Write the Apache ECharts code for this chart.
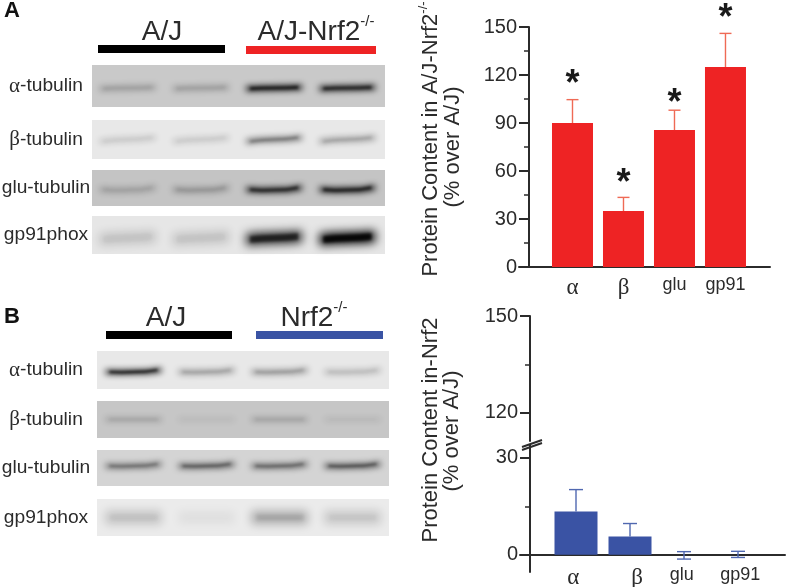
<!DOCTYPE html>
<html><head><meta charset="utf-8">
<style>html,body{margin:0;padding:0;background:#fff}#c{width:787px;height:587px}</style>
<script src="https://cdn.jsdelivr.net/npm/echarts@6/dist/echarts.min.js"></script>
</head><body><div id="c"></div>
<script>
// ---- data ----
const barLabels = ['α', 'β', 'glu', 'gp91'];
const laneNames = ['A/J 1', 'A/J 2', 'KO 1', 'KO 2'];
const valuesA = [90, 35, 85.6, 125];
const errTopA = [104.6, 43.5, 98, 146];
const starsA = [114, 52, 102, 155];
const valuesB = [13.4, 5.7, 0, 0];
const errTopB = [20.2, 9.7, 1, 1.1];
const errBottomB = [13.4, 5.7, -1.3, -0.8];
const blotRowNames = ['α-tubulin', 'β-tubulin', 'glu-tubulin', 'gp91phox'];
const blotA = [[.26,.26,.95,.9],[.2,.2,.62,.42],[.24,.3,.88,.92],[.16,.16,.82,.98]];
const blotB = [[1,.42,.45,.28],[.3,.12,.32,.14],[.6,.7,.65,.75],[.18,.05,.28,.16]];

// ---- layout ----
const INK = '#2b2b2b', RED = '#ee2324', BLUE = '#3a53a4';
const rowsA = [
 {top:65,h:42,bg:'#c9c9c9',dy:2,bh:5,bend:0,tilt:.7},{top:120,h:39,bg:'#e8e8e8',dy:0,bh:4,bend:0,tilt:2},
 {top:170,h:36,bg:'#c4c4c4',dy:2,bh:5,bend:1.5,tilt:1},{top:216,h:38,bg:'#e6e6e6',dy:3,bh:12,bend:0,tilt:1.5}];
const rowsB = [
 {top:351,h:38,bg:'#e8e8e8',dy:2,bh:4,bend:1,tilt:1},{top:401,h:37,bg:'#c6c6c6',dy:0,bh:3,bend:0,tilt:0},
 {top:450,h:36,bg:'#d4d4d4',dy:-2,bh:4,bend:1,tilt:1},{top:499,h:37,bg:'#ebebeb',dy:0,bh:13,bend:0,tilt:0}];
const labelRich = {
  g:{fontFamily:'"Liberation Serif"',fontSize:21,color:INK},
  t:{fontFamily:'"Liberation Sans"',fontSize:19.2,color:INK}
};
const greek = s => /^[αβ]/.test(s) ? '{g|'+s[0]+'}{t|'+s.slice(1)+'}' : '{t|'+s+'}';

const grid=[],xAxis=[],yAxis=[],series=[];
const addGrid=o=>grid.push(Object.assign({outerBoundsMode:'none'},o));
function blotPanel(rows,vals,left,width,laneDx){
  rows.forEach((r,i)=>{
    const gi=grid.length;
    addGrid({left,width,top:r.top,height:r.h,show:true,backgroundColor:r.bg,borderWidth:0});
    xAxis.push({gridIndex:gi,type:'category',data:laneNames,show:false});
    yAxis.push({gridIndex:gi,type:'category',data:[blotRowNames[i]],axisLine:{show:false},axisTick:{show:false},
      axisLabel:{margin:left-46,align:'center',formatter:greek,rich:labelRich}});
    series.push({type:'custom',xAxisIndex:gi,yAxisIndex:gi,silent:true,
      data:vals[i].map((v,k)=>[k,0,v]),encode:{x:0,y:1},
      renderItem(p,api){
        const c=api.coord([api.value(0),0]),v=api.value(2),far=3000;
        const w=56,h=r.bh,cx=c[0]+laneDx-far,cy=c[1]+r.dy;
        const band=(ww,hh)=>{
          const xs=[-.5,-.25,.25,.5],off=[r.tilt-r.bend,.3*r.tilt,-.3*r.tilt,-r.tilt-r.bend];
          const top=xs.map((f,j)=>[cx+f*ww,cy-hh/2+off[j]]);
          const bot=xs.map((f,j)=>[cx+f*ww,cy+hh/2+off[j]]).reverse();
          return top.concat(bot);};
        return {type:'group',children:[
          {type:'polygon',shape:{points:band(w,h)},
           style:{fill:'#000',shadowBlur:h>7?10:6,shadowOffsetX:far,shadowColor:'rgba(0,0,0,'+Math.min(1,v)+')'}},
          {type:'polygon',shape:{points:band(w-8,h*0.55)},
           style:{fill:'#000',shadowBlur:3,shadowOffsetX:far,shadowColor:'rgba(0,0,0,'+v*v*0.9+')'}}
        ]};
      }});
  });
}
blotPanel(rowsA,blotA,92,293,-1);
blotPanel(rowsB,blotB,97,292,0);

function xRich(){return {
  s:{fontFamily:'"Liberation Serif"',fontSize:23,color:INK},
  n:{fontFamily:'"Liberation Sans"',fontSize:18,color:INK}};}
function xAx(gi,min,max,pos,margin){
  return {gridIndex:gi,type:'value',min,max,splitLine:{show:false},
    axisLine:{show:true,onZero:true,lineStyle:{color:INK,width:2}},axisTick:{show:false},
    axisLabel:{customValues:pos,margin,hideOverlap:false,rich:xRich(),
      formatter:v=>{const t=barLabels[pos.indexOf(v)];return /[αβ]/.test(t)?'{s|'+t+'}':'{n|'+t+'}';}}};
}
const yLabel={fontFamily:'"Liberation Sans"',fontSize:20,color:INK,margin:12};
function errSeries(gi,xi,yi,top,bottom,color,capHalf){
  return {type:'custom',xAxisIndex:xi,yAxisIndex:yi,silent:true,clip:false,z:3,
    data:top.map((t,k)=>[k,t,bottom[k]]),encode:{x:0,y:1},
    renderItem(p,api){
      const a=api.coord([api.value(0),api.value(1)]),b=api.coord([api.value(0),api.value(2)]);
      const st={stroke:color,lineWidth:1.4};
      const caps=[{type:'line',shape:{x1:a[0],y1:a[1],x2:b[0],y2:b[1]},style:st},
        {type:'line',shape:{x1:a[0]-capHalf,y1:a[1],x2:a[0]+capHalf,y2:a[1]},style:st}];
      if(api.value(2)<0) caps.push({type:'line',shape:{x1:b[0]-capHalf,y1:b[1],x2:b[0]+capHalf,y2:b[1]},style:st});
      return {type:'group',children:caps};
    }};
}
const axLine={show:true,onZero:false,lineStyle:{color:INK,width:2}};

// Chart A
let g=grid.length;
addGrid({left:519,width:251,top:27,height:240});
xAxis.push(xAx(g,-1.049,3.873,[0,1,2,3],9));
yAxis.push({gridIndex:g,type:'value',min:0,max:150,interval:30,offset:-10,position:'left',splitLine:{show:false},
  axisLine:axLine,axisTick:{length:10,lineStyle:{color:INK,width:2}},
  minorTick:{show:true,splitNumber:2,length:5,lineStyle:{color:INK,width:1.5}},axisLabel:yLabel});
series.push({type:'bar',xAxisIndex:g,yAxisIndex:g,barWidth:41,silent:true,z:2,
  data:valuesA.map((v,i)=>[i,v]),itemStyle:{color:RED}});
series.push(errSeries(g,g,g,errTopA,valuesA,'#ef6a55',6));
series.push({type:'custom',xAxisIndex:g,yAxisIndex:g,silent:true,clip:false,z:4,
  data:starsA.map((v,i)=>[i,v]),encode:{x:0,y:1},
  renderItem(p,api){const c=api.coord([api.value(0),api.value(1)]);
    return {type:'text',x:c[0],y:c[1],style:{text:'*',align:'center',verticalAlign:'middle',
      font:'bold 36px "Liberation Sans"',fill:'#1a1a1a'}};}});

// Chart B: two stacked grids either side of the axis break
g=grid.length;
addGrid({left:520,width:265,top:445,height:127});
xAxis.push(xAx(g,-1.037,3.87,[-0.05,1.13,1.96,3.04],-6));
yAxis.push({gridIndex:g,type:'value',min:-5.3,max:34,offset:-10,position:'left',splitLine:{show:false},
  axisLine:axLine,axisTick:{customValues:[0,30],length:10,lineStyle:{color:INK,width:2}},
  axisLabel:Object.assign({customValues:[0,30]},yLabel)});
series.push({type:'bar',xAxisIndex:g,yAxisIndex:g,barWidth:43,silent:true,z:2,
  data:valuesB.map((v,i)=>[i,v]),itemStyle:{color:BLUE}});
series.push(errSeries(g,g,g,errTopB,errBottomB,'#5068b0',7));
yAxis.push({gridIndex:g,type:'value',min:-5.3,max:34,offset:-10,position:'left',splitLine:{show:false},
  axisLine:{show:false,onZero:false},axisTick:{customValues:[15],length:5,lineStyle:{color:INK,width:1.5}},axisLabel:{show:false}});

g=grid.length;
addGrid({left:520,width:265,top:316,height:125});
xAxis.push({gridIndex:g,type:'value',min:0,max:1,show:false});
const yUp=yAxis.length;
yAxis.push({gridIndex:g,type:'value',min:111.3,max:150,offset:-10,position:'left',splitLine:{show:false},
  axisLine:axLine,axisTick:{customValues:[120,150],length:10,lineStyle:{color:INK,width:2}},
  axisLabel:Object.assign({customValues:[120,150]},yLabel)});
yAxis.push({gridIndex:g,type:'value',min:111.3,max:150,offset:-10,position:'left',splitLine:{show:false},
  axisLine:{show:false,onZero:false},axisTick:{customValues:[135],length:5,lineStyle:{color:INK,width:1.5}},axisLabel:{show:false}});
// empty series so the axes are laid out
series.push({type:'line',xAxisIndex:g,yAxisIndex:yUp,data:[],silent:true});

// ---- text and rules ----
const sans='"Liberation Sans"';
const tx=(text,x,y,size,extra)=>Object.assign({type:'text',x,y,silent:true,
  style:Object.assign({text,align:'center',verticalAlign:'middle',font:size+'px '+sans,fill:INK},extra&&extra.style||{})},
  extra&&extra.rotation?{rotation:extra.rotation}:{});
const rule=(x,y,w,h,fill)=>({type:'rect',silent:true,shape:{x,y,width:w,height:h},style:{fill}});
const sup=(a,b,size,supSize)=>({text:'{a|'+a+'}{b|'+b+'}',rich:{
  a:{fontSize:size,fontFamily:sans,fill:INK},
  b:{fontSize:supSize,fontFamily:sans,fill:INK,verticalAlign:'top',padding:[0,0,Math.round(size*0.7),0]}}});
const R=Math.PI/2;
const graphic=[
  tx('A',12,11,22,{style:{font:'bold 22px '+sans,fill:'#111'}}),
  tx('B',12,317,22,{style:{font:'bold 22px '+sans,fill:'#111'}}),
  tx('A/J',162,32,28),
  tx('',316,32,28,{style:sup('A/J-Nrf2','-/-',28,15)}),
  tx('A/J',166,318,28),
  tx('',314,318,28,{style:sup('Nrf2','-/-',28,15)}),
  rule(98,45,127,8,'#000'),
  rule(246,46,130,8,RED),
  rule(106,331,126,8,'#000'),
  rule(256,331,127,8,BLUE),
  tx('',431,139,22,{rotation:R,style:sup('Protein Content in A/J-Nrf2','-/-',22,13)}),
  tx('(% over A/J)',453,147,22,{rotation:R}),
  tx('Protein Content in-Nrf2',431,430,22,{rotation:R}),
  tx('(% over A/J)',452,431,22,{rotation:R}),
  {type:'line',silent:true,shape:{x1:522,y1:447,x2:542,y2:440},style:{stroke:INK,lineWidth:2}},
  {type:'line',silent:true,shape:{x1:522,y1:450,x2:542,y2:443},style:{stroke:INK,lineWidth:2}}
];

const chart=echarts.init(document.getElementById('c'),null,{renderer:'canvas'});
chart.setOption({animation:false,backgroundColor:'#fff',tooltip:{show:false},grid,xAxis,yAxis,series,graphic});
</script></body></html>
